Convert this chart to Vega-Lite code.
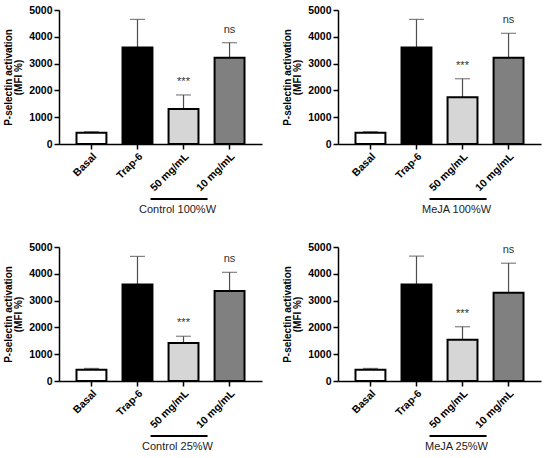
{
  "$schema": "https://vega.github.io/schema/vega-lite/v6.json",
  "description": "P-selectin activation (MFI %) for four extract conditions",
  "padding": {"left": 3, "top": 0, "right": 5, "bottom": 0},
  "data": {
    "values": [
      {"panel": "Control 100%W", "extract": "Control", "water": "100%W", "cond": "Basal", "mean": 420, "upper": 460, "sig": ""},
      {"panel": "Control 100%W", "extract": "Control", "water": "100%W", "cond": "Trap-6", "mean": 3600, "upper": 4650, "sig": ""},
      {"panel": "Control 100%W", "extract": "Control", "water": "100%W", "cond": "50 mg/mL", "mean": 1310, "upper": 1830, "sig": "***"},
      {"panel": "Control 100%W", "extract": "Control", "water": "100%W", "cond": "10 mg/mL", "mean": 3220, "upper": 3780, "sig": "ns"},
      {"panel": "MeJA 100%W", "extract": "MeJA", "water": "100%W", "cond": "Basal", "mean": 420, "upper": 460, "sig": ""},
      {"panel": "MeJA 100%W", "extract": "MeJA", "water": "100%W", "cond": "Trap-6", "mean": 3600, "upper": 4650, "sig": ""},
      {"panel": "MeJA 100%W", "extract": "MeJA", "water": "100%W", "cond": "50 mg/mL", "mean": 1745, "upper": 2435, "sig": "***"},
      {"panel": "MeJA 100%W", "extract": "MeJA", "water": "100%W", "cond": "10 mg/mL", "mean": 3220, "upper": 4130, "sig": "ns"},
      {"panel": "Control 25%W", "extract": "Control", "water": "25%W", "cond": "Basal", "mean": 420, "upper": 470, "sig": ""},
      {"panel": "Control 25%W", "extract": "Control", "water": "25%W", "cond": "Trap-6", "mean": 3600, "upper": 4650, "sig": ""},
      {"panel": "Control 25%W", "extract": "Control", "water": "25%W", "cond": "50 mg/mL", "mean": 1420, "upper": 1670, "sig": "***"},
      {"panel": "Control 25%W", "extract": "Control", "water": "25%W", "cond": "10 mg/mL", "mean": 3360, "upper": 4055, "sig": "ns"},
      {"panel": "MeJA 25%W", "extract": "MeJA", "water": "25%W", "cond": "Basal", "mean": 420, "upper": 470, "sig": ""},
      {"panel": "MeJA 25%W", "extract": "MeJA", "water": "25%W", "cond": "Trap-6", "mean": 3600, "upper": 4660, "sig": ""},
      {"panel": "MeJA 25%W", "extract": "MeJA", "water": "25%W", "cond": "50 mg/mL", "mean": 1540, "upper": 2025, "sig": "***"},
      {"panel": "MeJA 25%W", "extract": "MeJA", "water": "25%W", "cond": "10 mg/mL", "mean": 3290, "upper": 4395, "sig": "ns"}
    ]
  },
  "facet": {
    "row": {"field": "water", "type": "nominal", "sort": ["100%W", "25%W"], "header": {"title": null, "labels": false}},
    "column": {"field": "extract", "type": "nominal", "sort": ["Control", "MeJA"], "header": {"title": null, "labels": false}}
  },
  "spacing": {"column": 20, "row": 22},
  "resolve": {"axis": {"x": "independent", "y": "independent"}},
  "spec": {
    "width": 203,
    "height": 134,
    "encoding": {
      "x": {
        "field": "cond",
        "type": "nominal",
        "sort": ["Basal", "Trap-6", "50 mg/mL", "10 mg/mL"],
        "scale": {"paddingInner": 0.35, "paddingOuter": 0.38},
        "axis": {"title": null, "labelAngle": -45}
      }
    },
    "layer": [
      {
        "mark": {"type": "rule", "color": "#4d4d4d", "strokeWidth": 1.2},
        "encoding": {
          "y": {
            "field": "mean",
            "type": "quantitative",
            "scale": {"domain": [0, 5000], "nice": false},
            "axis": {
              "values": [0, 1000, 2000, 3000, 4000, 5000],
              "tickCount": 6,
              "labelOverlap": false,
              "format": "d",
              "title": ["P-selectin activation", "(MFI %)"],
              "titleLineHeight": 10.5,
              "titlePadding": 5
            }
          },
          "y2": {"field": "upper"}
        }
      },
      {
        "mark": {"type": "tick", "color": "#4d4d4d", "thickness": 1.2, "size": 15},
        "encoding": {
          "y": {"field": "upper", "type": "quantitative"}
        }
      },
      {
        "mark": {"type": "bar", "stroke": "black", "strokeWidth": 2},
        "encoding": {
          "y": {"field": "mean", "type": "quantitative"},
          "color": {
            "field": "cond",
            "type": "nominal",
            "scale": {
              "domain": ["Basal", "Trap-6", "50 mg/mL", "10 mg/mL"],
              "range": ["#ffffff", "#000000", "#d6d6d6", "#808080"]
            },
            "legend": null
          }
        }
      },
      {
        "mark": {"type": "text", "fontSize": 11, "color": "#333333", "baseline": "alphabetic", "yOffset": -10},
        "encoding": {
          "y": {"field": "upper", "type": "quantitative"},
          "text": {"field": "sig"}
        }
      },
      {
        "transform": [{"filter": "datum.cond === '50 mg/mL'"}],
        "mark": {"type": "rule", "color": "black", "strokeWidth": 2, "xOffset": -33, "x2Offset": -22, "yOffset": 55},
        "encoding": {
          "x2": {"datum": "10 mg/mL"},
          "y": {"datum": 0}
        }
      },
      {
        "transform": [{"filter": "datum.cond === '50 mg/mL'"}],
        "mark": {"type": "text", "fontSize": 11, "color": "#222222", "baseline": "alphabetic", "xOffset": -6, "yOffset": 69},
        "encoding": {
          "y": {"datum": 0},
          "text": {"field": "panel"}
        }
      }
    ]
  },
  "config": {
    "view": {"stroke": null},
    "font": "Liberation Sans",
    "axis": {
      "grid": false,
      "domainColor": "black",
      "domainWidth": 1.5,
      "tickColor": "black",
      "tickWidth": 1.5,
      "tickSize": 5,
      "labelPadding": 2,
      "labelColor": "black",
      "labelFont": "Liberation Sans",
      "labelFontSize": 10.5,
      "labelFontWeight": "bold",
      "titleColor": "black",
      "titleFont": "Liberation Sans",
      "titleFontSize": 10,
      "titleFontWeight": "bold"
    }
  }
}
